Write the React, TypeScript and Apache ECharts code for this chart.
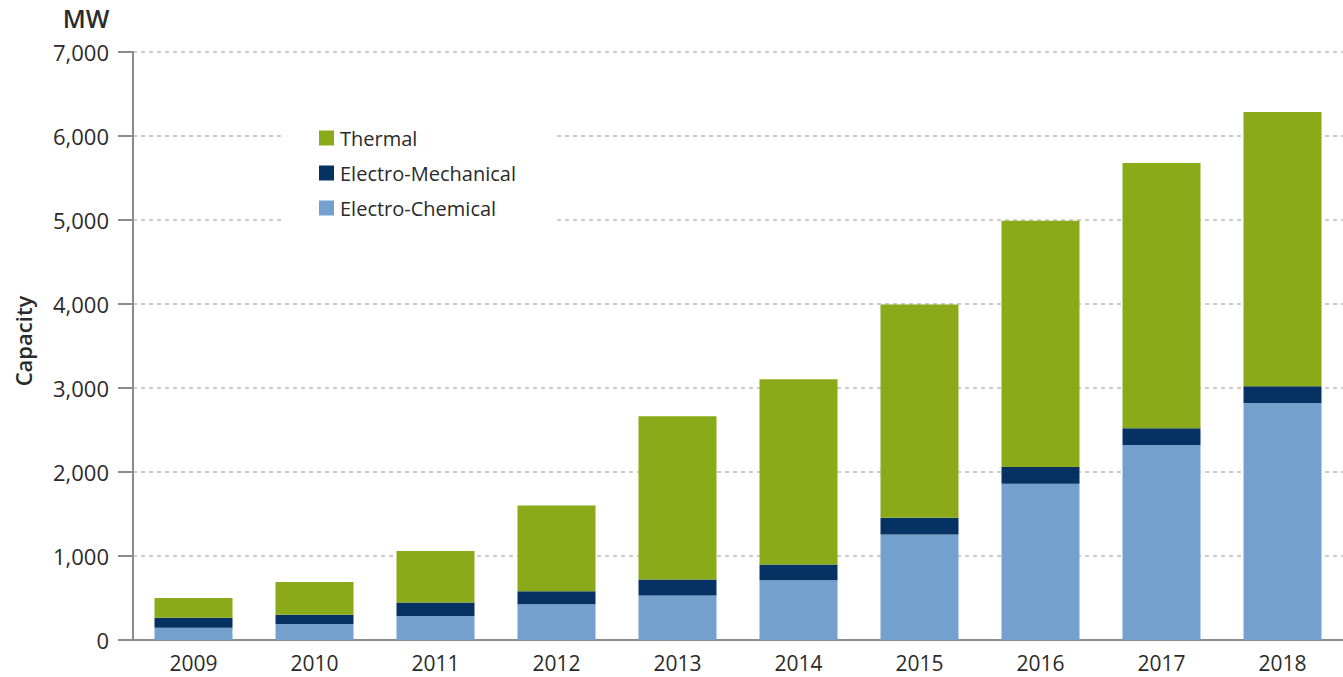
import React, { useEffect, useRef } from "react";
import * as echarts from "echarts";

const years = ["2009", "2010", "2011", "2012", "2013", "2014", "2015", "2016", "2017", "2018"];
const electroChemical = [145, 190, 285, 425, 530, 710, 1255, 1860, 2320, 2820];
const electroMechanical = [120, 110, 160, 155, 190, 190, 200, 200, 200, 200];
const thermal = [235, 390, 615, 1020, 1945, 2205, 2540, 2930, 3160, 3265];

const FONT = "'Open Sans', 'DejaVu Sans', sans-serif";
const TEXT = "#2b2b2b";

export default function App() {
  const ref = useRef<HTMLDivElement>(null);
  useEffect(() => {
    if (!ref.current) return;
    const chart = echarts.init(ref.current, undefined, { renderer: "svg" });
    chart.setOption({
      animation: false,
      textStyle: { fontFamily: FONT },
      grid: { left: 133, right: -4, top: 52, bottom: 37, containLabel: false },
      xAxis: {
        type: "category",
        data: years,
        axisLine: { lineStyle: { color: "#8c8c8c", width: 2 } },
        axisTick: { show: false },
        axisLabel: { color: TEXT, fontSize: 21, lineHeight: 21, margin: 12, fontFamily: FONT },
      },
      yAxis: {
        type: "value",
        min: 0,
        max: 7000,
        interval: 1000,
        axisLine: { show: true, lineStyle: { color: "#8c8c8c", width: 2 } },
        axisTick: { show: true, length: 15, lineStyle: { color: "#8c8c8c", width: 2 } },
        axisLabel: {
          color: TEXT,
          fontSize: 22,
          margin: 24,
          fontFamily: FONT,
          formatter: (v: number) => v.toLocaleString("en-US"),
        },
        splitLine: { show: true, lineStyle: { color: "#bdbdbd", type: [4, 4], width: 1.5 } },
      },
      legend: {
        orient: "vertical",
        left: 314,
        top: 123,
        itemWidth: 15,
        itemHeight: 15,
        itemGap: 15,
        icon: "rect",
        data: ["Thermal", "Electro-Mechanical", "Electro-Chemical"],
        textStyle: { color: TEXT, fontSize: 20, lineHeight: 20, fontFamily: FONT, padding: [0, 0, 0, 1] },
        z: 10,
      },
      graphic: [
        {
          type: "rect",
          z: 5,
          shape: { x: 283, y: 95, width: 274, height: 150 },
          style: { fill: "#ffffff" },
        },
        {
          type: "text",
          z: 10,
          x: 86,
          y: 18,
          style: {
            text: "MW",
            fill: TEXT,
            font: `600 25px ${FONT}`,
            textAlign: "center",
            textVerticalAlign: "middle",
          },
        },
        {
          type: "text",
          z: 10,
          x: 23,
          y: 341,
          rotation: Math.PI / 2,
          style: {
            text: "Capacity",
            fill: TEXT,
            font: `600 22px ${FONT}`,
            textAlign: "center",
            textVerticalAlign: "middle",
          },
        },
      ],
      series: [
        {
          name: "Electro-Chemical",
          type: "bar",
          stack: "total",
          data: electroChemical,
          barWidth: 78,
          itemStyle: { color: "#74a0cd" },
        },
        {
          name: "Electro-Mechanical",
          type: "bar",
          stack: "total",
          data: electroMechanical,
          barWidth: 78,
          itemStyle: { color: "#063263" },
        },
        {
          name: "Thermal",
          type: "bar",
          stack: "total",
          data: thermal,
          barWidth: 78,
          itemStyle: { color: "#8aaa19" },
        },
      ],
    });
    return () => chart.dispose();
  }, []);
  return (
    <div
      ref={ref}
      style={{ position: "absolute", left: 0, top: 0, width: 1343, height: 677, background: "#fff" }}
    />
  );
}
